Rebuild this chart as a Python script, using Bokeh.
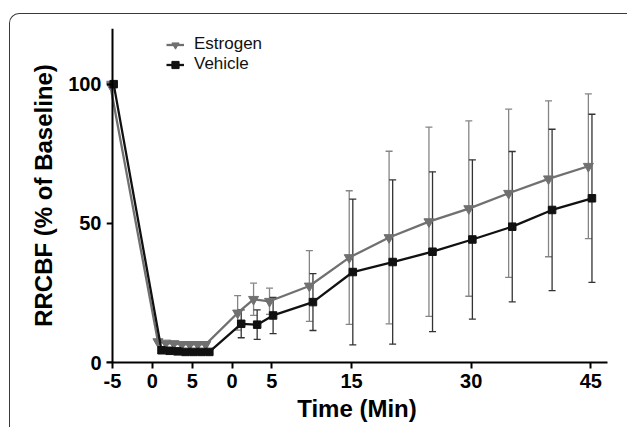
from bokeh.plotting import figure
from bokeh.models import (ColumnDataSource, Whisker, TeeHead, FixedTicker, Legend,
                          LegendItem, Range1d, LinearAxis)
from bokeh.embed import file_html
from bokeh.resources import INLINE

# ---------------- data ----------------
baseline_min = [-5]
ischemia_min = [1, 2, 3, 4, 5, 6, 7]
reperfusion_min = [1, 3, 5, 10, 15, 20, 25, 30, 35, 40, 45]

estrogen_baseline = [100]
vehicle_baseline = [100]
estrogen_isch = [7.5, 7.0, 6.8, 6.5, 6.5, 6.5, 6.5]
vehicle_isch = [4.4, 4.2, 4.0, 3.8, 3.8, 3.8, 3.8]
estrogen_rep = [17.8, 22.7, 22.0, 27.5, 37.7, 44.9, 50.6, 55.3, 60.8, 66.0, 70.5]
estrogen_rep_err = [6.2, 5.8, 4.7, 12.7, 24.0, 31.0, 34.0, 31.5, 30.2, 28.0, 26.0]
vehicle_rep = [13.9, 13.6, 16.9, 21.7, 32.5, 36.1, 39.8, 44.2, 48.8, 54.8, 59.0]
vehicle_rep_err = [5.0, 5.3, 6.5, 10.2, 26.2, 29.5, 28.7, 28.6, 27.0, 29.0, 30.2]

isch_tick_labels = ["-5", "0", "5"]
rep_tick_labels = ["0", "5", "15", "30", "45"]
y_ticks = [0, 50, 100]

# ---------------- layout helpers ----------------
REP_OFFSET = 10          # reperfusion segment starts 10 units after ischemia 0
DODGE_E = -0.3
DODGE_V = 0.15
FONT = "Liberation Sans"
E_COLOR = "#707070"
E_ERR = "#858585"
V_COLOR = "#111111"
V_ERR = "#333333"

def series_x(dodge):
    xs = baseline_min + ischemia_min + [m + REP_OFFSET for m in reperfusion_min]
    return [x + dodge for x in xs]

e_src = ColumnDataSource(dict(x=series_x(DODGE_E),
                              y=estrogen_baseline + estrogen_isch + estrogen_rep))
v_src = ColumnDataSource(dict(x=series_x(DODGE_V),
                              y=vehicle_baseline + vehicle_isch + vehicle_rep))

e_err_src = ColumnDataSource(dict(
    x=[m + REP_OFFSET + DODGE_E for m in reperfusion_min],
    upper=[a + b for a, b in zip(estrogen_rep, estrogen_rep_err)],
    lower=[a - b for a, b in zip(estrogen_rep, estrogen_rep_err)]))
v_err_src = ColumnDataSource(dict(
    x=[m + REP_OFFSET + DODGE_V for m in reperfusion_min],
    upper=[a + b for a, b in zip(vehicle_rep, vehicle_rep_err)],
    lower=[a - b for a, b in zip(vehicle_rep, vehicle_rep_err)]))

p = figure(width=618, height=414, output_backend="svg", toolbar_location=None,
           x_range=Range1d(-5.75, 57.1), y_range=Range1d(0, 120),
           min_border_left=96, min_border_right=21, min_border_top=14,
           min_border_bottom=66,
           styles={"margin-left": "9px", "margin-top": "13px",
                   "border-left": "1.5px solid #3a3a3a",
                   "border-top": "1.5px solid #3a3a3a",
                   "border-top-left-radius": "10px"})
p.outline_line_color = None
p.grid.visible = False
p.background_fill_alpha = 0
p.border_fill_alpha = 0

# error bars
for src, col in ((e_err_src, E_ERR), (v_err_src, V_ERR)):
    w = Whisker(base="x", upper="upper", lower="lower", source=src,
                line_color=col, line_width=1.3,
                upper_head=TeeHead(size=7, line_color=col, line_width=1.3),
                lower_head=TeeHead(size=7, line_color=col, line_width=1.3))
    p.add_layout(w)

le = p.line("x", "y", source=e_src, line_color=E_COLOR, line_width=2.3)
se = p.scatter("x", "y", source=e_src, marker="inverted_triangle", size=10,
               fill_color=E_COLOR, line_color=E_COLOR)
lv = p.line("x", "y", source=v_src, line_color=V_COLOR, line_width=2.3)
sv = p.scatter("x", "y", source=v_src, marker="square", size=7.5,
               fill_color=V_COLOR, line_color=V_COLOR)

# x axis
tick_pos = [-5, 0, 5] + [int(t) + REP_OFFSET for t in rep_tick_labels]
tick_lab = isch_tick_labels + rep_tick_labels
xa = p.xaxis[0]
xa.ticker = FixedTicker(ticks=tick_pos)
xa.major_label_overrides = {pos: lab for pos, lab in zip(tick_pos, tick_lab)}

# y axis: labels at frame edge, line + ticks at x = -5
ya = p.yaxis[0]
ya.ticker = FixedTicker(ticks=y_ticks)
ya.axis_line_color = None
ya.major_tick_line_color = None
ya.major_tick_out = 0
ya.major_tick_in = 0

ya_line = LinearAxis(ticker=FixedTicker(ticks=y_ticks), fixed_location=-5,
                     major_label_text_alpha=0, major_label_text_font_size="1px",
                     axis_line_width=2, axis_line_color="black",
                     major_tick_line_width=2, major_tick_line_color="black",
                     major_tick_out=6, major_tick_in=0,
                     minor_tick_line_color=None)
p.add_layout(ya_line, "left")

xa.axis_line_width = 2
xa.axis_line_color = "black"
xa.major_tick_line_width = 2
xa.major_tick_line_color = "black"
xa.major_tick_out = 6
xa.major_tick_in = 0

for ax in (xa, ya):
    ax.minor_tick_line_color = None
    ax.major_label_text_font = FONT
    ax.major_label_text_font_size = "20px"
    ax.major_label_text_font_style = "bold"
    ax.major_label_text_color = "black"
    ax.axis_label_text_font = FONT
    ax.axis_label_text_font_size = "24px"
    ax.axis_label_text_font_style = "bold"
    ax.axis_label_text_color = "black"

xa.axis_label = "Time (Min)"
ya.axis_label = "RRCBF (% of Baseline)"
xa.major_label_standoff = 5
xa.axis_label_standoff = 4
ya.major_label_standoff = 5
ya.axis_label_standoff = 8

legend = Legend(items=[LegendItem(label="Estrogen", renderers=[le, se]),
                       LegendItem(label="Vehicle", renderers=[lv, sv])],
                location=(60, 288), border_line_color=None,
                background_fill_alpha=0, padding=0, spacing=0, margin=0,
                label_text_font=FONT, label_text_font_size="17px",
                label_text_color="#111111",
                glyph_width=18, glyph_height=19, label_height=19,
                label_standoff=10)
p.add_layout(legend)

open("out.html", "w").write(file_html(p, INLINE))
